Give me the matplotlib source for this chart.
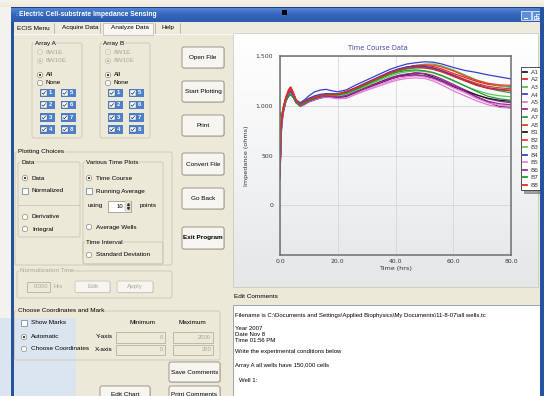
import numpy as np
import matplotlib
matplotlib.use("Agg")
import matplotlib.pyplot as plt
from matplotlib.patches import Rectangle, Circle, FancyBboxPatch
from matplotlib.colors import LinearSegmentedColormap

# ---------------- data ----------------
hours = [0, 0.4, 1, 2, 3, 3.7, 4.6, 5.6, 7, 8.5,
         10, 12, 14, 16, 18, 20, 23, 26, 29, 32,
         35, 38, 41, 44, 47, 50, 53, 56, 60, 64,
         68, 72, 76, 80]

a1 = [320, 760, 930, 1050, 1110, 1130, 1090, 1030, 1000, 1020,
      1045, 1065, 1085, 1095, 1090, 1075, 1090, 1130, 1165, 1195,
      1230, 1265, 1295, 1315, 1330, 1320, 1290, 1255, 1200, 1150,
      1090, 1040, 990, 985]
a2 = [300, 820, 960, 1085, 1165, 1190, 1135, 1055, 1015, 1040,
      1065, 1085, 1100, 1110, 1115, 1118, 1140, 1175, 1215, 1255,
      1295, 1335, 1365, 1390, 1402, 1405, 1395, 1370, 1325, 1285,
      1245, 1215, 1200, 1190]
a3 = [380, 870, 970, 1060, 1110, 1120, 1090, 1040, 1010, 1030,
      1055, 1075, 1095, 1110, 1112, 1115, 1130, 1160, 1195, 1235,
      1275, 1315, 1350, 1380, 1405, 1418, 1420, 1400, 1360, 1310,
      1260, 1225, 1200, 1185]
a4 = [290, 800, 950, 1070, 1140, 1160, 1120, 1060, 1030, 1060,
      1100, 1140, 1158, 1165, 1150, 1140, 1160, 1205, 1245, 1285,
      1325, 1365, 1395, 1420, 1432, 1442, 1438, 1420, 1385, 1355,
      1335, 1310, 1290, 1270]
a5 = [260, 700, 900, 1040, 1120, 1180, 1120, 1040, 990, 1010,
      1040, 1060, 1075, 1085, 1080, 1070, 1075, 1110, 1145, 1175,
      1205, 1235, 1260, 1275, 1280, 1275, 1250, 1210, 1150, 1100,
      1050, 1010, 985, 975]
a6 = [270, 730, 920, 1050, 1130, 1170, 1110, 1035, 995, 1015,
      1045, 1070, 1090, 1100, 1098, 1090, 1105, 1140, 1175, 1210,
      1245, 1280, 1305, 1320, 1330, 1325, 1305, 1270, 1215, 1160,
      1110, 1070, 1045, 1030]
a7 = [930, 880, 950, 1050, 1095, 1110, 1085, 1035, 1005, 1025,
      1055, 1080, 1100, 1110, 1112, 1110, 1130, 1165, 1205, 1245,
      1285, 1320, 1350, 1370, 1380, 1382, 1375, 1350, 1305, 1260,
      1215, 1175, 1150, 1130]
a8 = [340, 840, 970, 1080, 1150, 1175, 1130, 1055, 1020, 1045,
      1070, 1090, 1105, 1115, 1118, 1120, 1145, 1180, 1220, 1260,
      1300, 1340, 1368, 1385, 1395, 1392, 1380, 1355, 1310, 1265,
      1225, 1195, 1180, 1170]
b1 = [310, 750, 925, 1045, 1100, 1125, 1085, 1030, 1000, 1020,
      1040, 1060, 1080, 1090, 1085, 1080, 1095, 1130, 1170, 1205,
      1240, 1270, 1295, 1305, 1310, 1300, 1275, 1240, 1190, 1150,
      1110, 1075, 1055, 1045]
b2 = [330, 830, 965, 1085, 1160, 1185, 1130, 1050, 1015, 1040,
      1062, 1082, 1098, 1108, 1112, 1115, 1138, 1170, 1210, 1250,
      1290, 1330, 1362, 1388, 1405, 1410, 1408, 1390, 1350, 1300,
      1255, 1225, 1210, 1205]
b3 = [350, 810, 940, 1055, 1105, 1125, 1090, 1035, 1005, 1025,
      1050, 1072, 1090, 1100, 1102, 1100, 1115, 1150, 1185, 1225,
      1262, 1298, 1325, 1342, 1350, 1345, 1330, 1300, 1250, 1200,
      1155, 1120, 1100, 1090]
b4 = [300, 790, 945, 1065, 1130, 1150, 1110, 1050, 1020, 1045,
      1075, 1100, 1115, 1122, 1120, 1118, 1140, 1178, 1218, 1258,
      1298, 1338, 1370, 1390, 1400, 1395, 1380, 1350, 1305, 1255,
      1210, 1180, 1165, 1155]
b5 = [280, 720, 910, 1045, 1125, 1175, 1115, 1040, 995, 1012,
      1042, 1062, 1080, 1088, 1082, 1072, 1082, 1118, 1155, 1188,
      1220, 1250, 1275, 1292, 1300, 1292, 1268, 1235, 1180, 1130,
      1075, 1030, 1005, 995]
b6 = [290, 740, 925, 1048, 1125, 1160, 1105, 1035, 998, 1018,
      1046, 1068, 1086, 1096, 1092, 1086, 1100, 1135, 1170, 1205,
      1238, 1270, 1292, 1305, 1310, 1302, 1282, 1250, 1200, 1145,
      1090, 1045, 1020, 1010]
b7 = [360, 820, 945, 1055, 1100, 1115, 1085, 1030, 1000, 1022,
      1050, 1075, 1095, 1105, 1108, 1108, 1125, 1160, 1200, 1240,
      1280, 1315, 1340, 1355, 1360, 1352, 1335, 1305, 1255, 1200,
      1145, 1095, 1070, 1055]
b8 = [320, 810, 955, 1075, 1150, 1180, 1125, 1050, 1012, 1038,
      1062, 1082, 1098, 1108, 1112, 1115, 1138, 1172, 1212, 1252,
      1292, 1330, 1360, 1378, 1385, 1380, 1365, 1340, 1295, 1250,
      1205, 1175, 1160, 1150]

wells = ["A1", "A2", "A3", "A4", "A5", "A6", "A7", "A8",
         "B1", "B2", "B3", "B4", "B5", "B6", "B7", "B8"]
series = [a1, a2, a3, a4, a5, a6, a7, a8, b1, b2, b3, b4, b5, b6, b7, b8]
well_colors = ["#1a1a1a", "#e8261f", "#4cc04c", "#3a3ec8", "#e47ad8", "#9c2596", "#22a03a", "#e33a2a",
               "#1a1a1a", "#ee3a30", "#5cc85c", "#3a3ec8", "#e784dc", "#a02a9a", "#1f9a35", "#e8261f"]

x_ticks = [0, 20, 40, 60, 80]
x_tick_labels = ["0.0", "20.0", "40.0", "60.0", "80.0"]
y_ticks = [-500, 0, 500, 1000, 1500]
y_tick_labels = ["", "0", "500", "1,000", "1,500"]

# ---------------- window drawing helpers ----------------
W, H = 544, 396
BEIGE = "#ece9d8"
GRAY_TXT = "#aca899"
UI_FONT = "Liberation Sans"
FS = 4.6

plt.rcParams["font.family"] = UI_FONT

fig = plt.figure(figsize=(W / 100, H / 100), dpi=100)
bg = fig.add_axes([0, 0, 1, 1])
bg.set_zorder(0)
bg.axis("off")


def gradient(x0, y0, x1, y1, colors, z=0, horizontal=False):
    cmap = LinearSegmentedColormap.from_list("g", colors)
    grad = np.linspace(0, 1, 64)
    img = grad[None, :] if horizontal else grad[:, None]
    bg.imshow(img, cmap=cmap, extent=(x0, x1, y1, y0), origin="upper",
              aspect="auto", zorder=z, interpolation="bilinear")


def rect(x0, y0, x1, y1, fc="none", ec="none", lw=0.6, z=1, ax=None):
    (ax or bg).add_patch(Rectangle((x0, y0), x1 - x0, y1 - y0, facecolor=fc,
                                   edgecolor=ec, lw=lw, zorder=z))


def txt(x, y, s, size=FS, color="#000000", ha="left", weight="normal", z=6, **kw):
    bg.text(x, y, s, fontsize=size, color=color, ha=ha, va="center",
            fontweight=weight, zorder=z, **kw)


def groupbox(x0, y0, x1, y1, title, color="#000000"):
    bg.add_patch(FancyBboxPatch((x0, y0), x1 - x0, y1 - y0,
                                boxstyle="round,pad=0,rounding_size=2",
                                facecolor="none", edgecolor="#c9c6b6", lw=0.6, zorder=3))
    bg.text(x0 + 3, y0, title, fontsize=FS, color=color, ha="left", va="center", zorder=6,
            bbox=dict(facecolor=BEIGE, edgecolor="none", pad=0.4))


def button(x0, y0, x1, y1, label, bold=False, enabled=True):
    bg.add_patch(FancyBboxPatch((x0 + 0.6, y0 + 0.6), x1 - x0, y1 - y0,
                                boxstyle="round,pad=0,rounding_size=2",
                                facecolor="#c9c6b8", edgecolor="none", zorder=3))
    bg.add_patch(FancyBboxPatch((x0, y0), x1 - x0, y1 - y0,
                                boxstyle="round,pad=0,rounding_size=2",
                                facecolor="#f6f5ef", edgecolor="#8d8a7e" if enabled else "#c9c6b8",
                                lw=0.6, zorder=4))
    txt((x0 + x1) / 2, (y0 + y1) / 2, label, ha="center",
        weight="bold" if bold else "normal", color="#000000" if enabled else GRAY_TXT)


def radio(x, y, on=False, enabled=True):
    bg.add_patch(Circle((x, y), 2.7, facecolor="white" if enabled else BEIGE,
                        edgecolor="#8b8a80" if enabled else "#c9c6b6", lw=0.5, zorder=5))
    if on:
        bg.add_patch(Circle((x, y), 1.1, facecolor="#2a2a2a" if enabled else "#b8b5a6",
                            edgecolor="none", zorder=6))


def checkmark(x, y, color="#222222", lw=0.6):
    bg.plot([x - 1.8, x - 0.6, x + 1.8], [y - 0.1, y + 1.3, y - 1.6], color=color,
            lw=lw, zorder=7, solid_capstyle="butt")


def checkbox(x, y, on=False):
    rect(x - 2.8, y - 2.8, x + 2.8, y + 2.8, fc="white", ec="#6b7b8c", lw=0.5, z=5)
    if on:
        checkmark(x, y)


def tile(x, y, number):
    rect(x, y - 4.2, x + 15, y + 4.2, fc="#4f7fc7", z=4)
    rect(x + 1.3, y - 2.6, x + 6.5, y + 2.6, fc="white", ec="#3a5f95", lw=0.3, z=5)
    checkmark(x + 3.9, y, lw=0.5)
    txt(x + 10.5, y, str(number), size=4.3, color="white", ha="center", weight="bold")


def textbox(x0, y0, x1, y1, value, enabled=True):
    rect(x0, y0, x1, y1, fc="white" if enabled else BEIGE, ec="#a9a694", lw=0.5, z=4)
    txt(x1 - 2, (y0 + y1) / 2, value, ha="right", color="#000000" if enabled else GRAY_TXT, size=4.2)


# ---------------- outer background and window frame ----------------
rect(0, 0, W, H, fc="#f4f2ec", z=0)
gradient(0, 0, W, 7, ["#f7f3ea", "#efe9dc"], z=0.5)
rect(14, 22, 540, H, fc=BEIGE, z=0.7)
rect(0, 318, 76, H, fc="#dbe5f0", z=0.8)
# window edges
rect(11, 7, 14.2, H, fc="#2553a0", z=9)
gradient(11, 7, W, 22, ["#5a8ad8", "#3566bd", "#2c5bb0"], z=9)
rect(11, 6.5, W, 7.6, fc="#1c447f", z=9.5)
txt(15.5, 15, ":", size=4.5, color="#9fd0ff", weight="bold", z=10)
txt(19, 15, "Electric Cell-substrate Impedance Sensing", size=4.9, color="white", weight="bold", z=10)
rect(282, 10, 287, 15, fc="black", z=10)
for bx in (521, 532):
    rect(bx, 11, bx + 9.5, 20, fc="#5d8ed8", ec="white", lw=0.5, z=10)
bg.plot([523.5, 527], [17.5, 17.5], color="white", lw=0.8, zorder=11)
rect(535.5, 14, 539.5, 18, ec="white", lw=0.5, z=11)
rect(534, 15.5, 538, 19, ec="white", lw=0.5, z=11)

# menu / tab strip
rect(14, 22, 540, 34, fc="#eeebdd", z=1)
bg.plot([14, 540], [34, 34], color="#ffffff", lw=0.5, zorder=2)
rect(103, 22.5, 153, 35, fc="#f7f6f0", ec="#b9b6a6", lw=0.5, z=2)
txt(17, 28, "ECIS Menu")
txt(62, 28, "Acquire Data")
txt(111, 28, "Analyze Data")
txt(161, 28, "Help")
for sx in (54, 100, 155, 180):
    bg.plot([sx, sx], [23, 33], color="#a9a694", lw=0.5, zorder=3)

# ---------------- left control panel ----------------
for gx, name in ((32, "Array A"), (100, "Array B")):
    groupbox(gx, 43, gx + 50, 138, name)
    rx = gx + 8
    radio(rx, 52, False, enabled=False)
    txt(rx + 6, 52, "8W1E", color=GRAY_TXT)
    radio(rx, 61, True, enabled=False)
    txt(rx + 6, 61, "8W10E", color=GRAY_TXT)
    radio(rx, 75, True)
    txt(rx + 6, 75, "All")
    radio(rx, 83, False)
    txt(rx + 6, 83, "None")
    for i, ty in enumerate((93, 105, 117.5, 129.5)):
        tile(gx + 8, ty, i + 1)
        tile(gx + 29, ty, i + 5)

button(182, 47, 224, 68, "Open File")
button(182, 81, 224, 102, "Start Plotting")
button(182, 115, 224, 136, "Print")
button(182, 153, 224, 175, "Convert File")
button(182, 188, 224, 209, "Go Back")
button(182, 227, 224, 249, "Exit Program", bold=True)

groupbox(15, 152, 172, 265, "Plotting Choices")
groupbox(18, 162, 80, 237, "Data")
bg.plot([18, 80], [205, 205], color="#c9c6b6", lw=0.6, zorder=3)
radio(25, 178, True)
txt(32, 178, "Data")
checkbox(25, 191)
txt(32, 191, "Normalized")
radio(25, 217)
txt(32, 217, "Derivative")
radio(25, 229)
txt(32, 229, "Integral")

groupbox(83, 162, 163, 264, "Various Time Plots")
radio(89, 178, True)
txt(96, 178, "Time Course")
checkbox(89, 191)
txt(96, 191, "Running Average")
txt(88, 206, "using")
rect(108, 200.5, 131, 211.5, fc="white", ec="#8d8a7e", lw=0.5, z=4)
txt(123.5, 206, "10", ha="right", size=4.2)
rect(125, 201, 130.5, 211, fc=BEIGE, ec="#a9a694", lw=0.3, z=5)
bg.plot([127.8], [204], marker="^", ms=1.4, color="#333", zorder=6)
bg.plot([127.8], [208.2], marker="v", ms=1.4, color="#333", zorder=6)
txt(140, 206, "points")
radio(89, 227)
txt(96, 227, "Average Wells")
groupbox(83, 242, 163, 264, "Time Interval")
radio(89, 255)
txt(96, 255, "Standard Deviation")

groupbox(17, 271, 172, 298, "Normalization Time", color=GRAY_TXT)
textbox(27, 282, 50, 291.5, "0.000", enabled=False)
txt(53, 287, "Hrs", color=GRAY_TXT, size=4.2)
button(75, 281, 110, 292.5, "Edit", enabled=False)
button(117, 281, 153, 292.5, "Apply", enabled=False)

groupbox(14.5, 311, 220, 360, "Choose Coordinates and Mark")
checkbox(24, 323)
txt(31, 323, "Show Marks")
radio(24, 337, True)
txt(31, 337, "Automatic")
radio(24, 349)
txt(31, 349, "Choose Coordinates")
txt(142, 323, "Minimum", ha="center")
txt(192, 323, "Maximum", ha="center")
txt(113, 337, "Y-axis", ha="right")
txt(113, 349.5, "X-axis", ha="right")
textbox(116, 332, 165, 342.5, "0", enabled=False)
textbox(173, 332, 213, 342.5, "2000", enabled=False)
textbox(116, 344.5, 165, 355, "0", enabled=False)
textbox(173, 344.5, 213, 355, "200", enabled=False)

button(169, 362, 220, 382, "Save Comments")
button(100, 386, 150, 402, "Edit Chart")
button(169, 386, 220, 402, "Print Comments")

# ---------------- chart panel and comment box ----------------
gradient(233, 33, 538, 287, ["#ffffff", "#f3f4f5", "#e4e6e8"], z=1)
rect(233, 33, 538, 287, ec="#c4c4bc", lw=0.5, z=2)
txt(234, 296.5, "Edit Comments")
rect(233, 305, 540, 402, fc="white", ec="#7f9db9", lw=0.6, z=2)
comment_lines = [
    (316, "Filename is C:\\Documents and Settings\\Applied Biophysics\\My Documents\\11-8-07\\all wells.tc"),
    (328, "Year 2007"),
    (334, "Date Nov 8"),
    (340, "Time 01:56 PM"),
    (352, "Write the experimental conditions below"),
    (365.5, "Array A all wells have 150,000 cells"),
]
for ly, line in comment_lines:
    txt(235, ly, line, size=4.3)
txt(239, 380.5, "Well 1:", size=4.3)

bg.set_xlim(0, W)
bg.set_ylim(H, 0)

# ---------------- impedance time course chart ----------------
ax = fig.add_axes([280 / W, 1 - 255 / H, 231 / W, 199 / H])
ax.set_zorder(2)
ax.patch.set_alpha(0)
for vals, col, name in zip(series, well_colors, wells):
    ax.plot(hours, vals, color=col, lw=0.9, label=name)

ax.set_xlim(0, 80)
ax.set_ylim(-500, 1500)
ax.set_xticks(x_ticks)
ax.set_xticklabels(x_tick_labels)
ax.set_yticks(y_ticks)
ax.set_yticklabels(y_tick_labels)
ax.grid(True, color="#d6d6d6", lw=0.6)
ax.set_axisbelow(True)
ax.tick_params(length=0, labelsize=4.4, colors="#3a3a3a", pad=3)
ax.tick_params(axis="y", pad=5)
for lab in ax.get_xticklabels() + ax.get_yticklabels():
    lab.set_family("DejaVu Sans")
for sp in ax.spines.values():
    sp.set_color("#6e6e6e")
    sp.set_linewidth(1.1)

ax.set_xlabel("Time (hrs)", fontsize=4.6, family="DejaVu Sans", color="#333333")
ax.xaxis.set_label_coords(0.502, -0.055)
ax.set_ylabel("Impedance (ohms)", fontsize=4.6, family="DejaVu Sans", color="#333333")
ax.yaxis.set_label_coords(-0.134, 0.5)
ax.text(0.424, 1.04, "Time Course Data", transform=ax.transAxes, ha="center", va="center",
        fontsize=4.8, family="DejaVu Sans", color="#4b4ba6")

leg = ax.legend(loc="upper left", bbox_to_anchor=((521 - 280) / 231, (255 - 67.5) / 199),
                handlelength=0.7, handletextpad=0.5, borderpad=0.35,
                labelspacing=0.37, frameon=True, fancybox=False, shadow=True,
                borderaxespad=0, prop={"family": "DejaVu Sans", "size": 4.4})
leg.get_frame().set_edgecolor("#333333")
leg.get_frame().set_linewidth(0.6)
for t in leg.get_texts():
    t.set_color("#3a3a3a")
for h in leg.legend_handles:
    h.set_linewidth(1.3)

# window border drawn above the chart
ov = fig.add_axes([0, 0, 1, 1])
ov.set_zorder(20)
ov.axis("off")
ov.patch.set_alpha(0)
ov.set_xlim(0, W)
ov.set_ylim(H, 0)
rect(540, 7, W, H, fc="#2553a0", z=1, ax=ov)

fig.savefig("out.png", dpi=100)
